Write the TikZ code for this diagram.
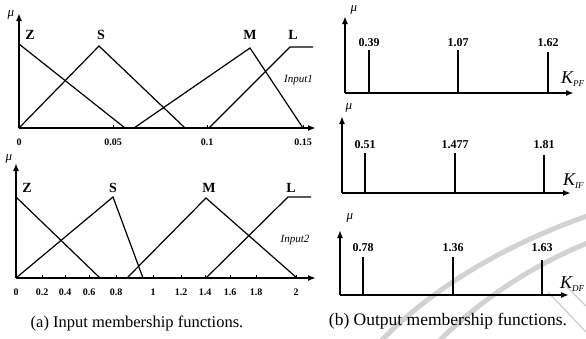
\documentclass[tikz,border=0pt]{standalone}
\usepackage{fontspec}
\setmainfont{Liberation Serif}
\usetikzlibrary{arrows.meta}
\begin{document}
\begin{tikzpicture}[x=1pt,y=-1pt,
  axis/.style={line width=1.8pt,-{Latex[length=8pt,width=6pt]}},
  mf/.style={line width=1.2pt,line join=miter},
  bar/.style={line width=1.8pt},
  tk/.style={line width=1pt},
  mfl/.style={font=\bfseries\fontsize{14}{14}\selectfont,inner sep=0pt},
  tl/.style={font=\bfseries\fontsize{10}{10}\selectfont,inner sep=0pt},
  vl/.style={font=\bfseries\fontsize{12}{12}\selectfont,inner sep=0pt},
  mu/.style={font=\itshape\fontsize{13}{13}\selectfont,inner sep=0pt},
  inl/.style={font=\itshape\fontsize{11}{11}\selectfont,inner sep=0pt},
  kl/.style={font=\itshape\fontsize{18}{18}\selectfont,inner sep=0pt,anchor=west},
  captxt/.style={font=\fontsize{16.5}{16.5}\selectfont,inner sep=0pt},
  wm/.style={line width=5pt,gray!35}]
\useasboundingbox (0,0) rectangle (586,338);
% watermark arcs
\draw[wm] (380,342) .. controls (425,295) and (495,248) .. (590,215);
\draw[wm] (438,342) .. controls (478,302) and (530,266) .. (590,242);
\draw[gray!40,line width=1.2pt] (548,292) -- (586,332);
\draw[gray!40,line width=1.2pt] (566,286) -- (586,306);

% ---------- Panel 1 ----------
\coordinate (o1) at (19,128); \coordinate (y1) at (19,13); \coordinate (x1) at (316,128);
\draw[axis] (o1) -- (y1);
\draw[axis] (o1) -- (x1);
\node[mu] (mu1) at (11,15) {μ};
\coordinate (z1a) at (19,44); \coordinate (z1b) at (125,128);
\draw[mf] (z1a) -- (z1b);
\coordinate (s1a) at (19,128); \coordinate (s1b) at (99,46); \coordinate (s1c) at (185,128);
\draw[mf] (s1a) -- (s1b) -- (s1c);
\coordinate (m1a) at (134,128); \coordinate (m1b) at (250,48); \coordinate (m1c) at (303,128);
\draw[mf] (m1a) -- (m1b) -- (m1c);
\coordinate (l1a) at (209,128); \coordinate (l1b) at (290,47); \coordinate (l1c) at (313,47);
\draw[mf] (l1a) -- (l1b) -- (l1c);
\node[mfl] (Z1) at (30,35) {Z};
\node[mfl] (S1) at (101,35) {S};
\node[mfl] (M1) at (250,35) {M};
\node[mfl] (L1) at (293,35) {L};
\node[inl,anchor=west] (in1) at (284,80) {Input1};
\foreach \x/\t [count=\i] in {19/0,113/0.05,207/0.1,303/0.15}{
  \coordinate (t1\i) at (\x,128); \coordinate (u1\i) at (\x,125);
  \draw[tk] (t1\i) -- (u1\i);
  \node[tl] (tl1\i) at (\x,142) {\t};
}

% ---------- Panel 2 ----------
\coordinate (o2) at (16,278); \coordinate (y2) at (16,163); \coordinate (x2) at (316,278);
\draw[axis] (o2) -- (y2);
\draw[axis] (o2) -- (x2);
\node[mu] (mu2) at (9,159) {μ};
\coordinate (z2a) at (16,197); \coordinate (z2b) at (100,278);
\draw[mf] (z2a) -- (z2b);
\coordinate (s2a) at (16,278); \coordinate (s2b) at (113,197); \coordinate (s2c) at (143,278);
\draw[mf] (s2a) -- (s2b) -- (s2c);
\coordinate (m2a) at (127,278); \coordinate (m2b) at (206,198); \coordinate (m2c) at (297,278);
\draw[mf] (m2a) -- (m2b) -- (m2c);
\coordinate (l2a) at (206,278); \coordinate (l2b) at (288,197); \coordinate (l2c) at (311,197);
\draw[mf] (l2a) -- (l2b) -- (l2c);
\node[mfl] (Z2) at (27,188) {Z};
\node[mfl] (S2) at (113,188) {S};
\node[mfl] (M2) at (209,188) {M};
\node[mfl] (L2) at (291,188) {L};
\node[inl] (in2) at (295,240) {Input2};
\foreach \x/\t [count=\i] in {16/0,42/0.2,65/0.4,89/0.6,116/0.8,153/1,181/1.2,205/1.4,230/1.6,256/1.8,296/2}{
  \coordinate (t2\i) at (\x,278); \coordinate (u2\i) at (\x,275);
  \draw[tk] (t2\i) -- (u2\i);
  \node[tl] (tl2\i) at (\x,292) {\t};
}
\node[captxt] (capa) at (137,323) {(a) Input membership functions.};

% ---------- Panel 3 ----------
\coordinate (o3) at (345,93); \coordinate (y3) at (345,16); \coordinate (x3) at (574,93);
\draw[axis] (o3) -- (y3);
\draw[axis] (o3) -- (x3);
\node[mu] (mu3) at (354,10) {μ};
\foreach \x/\t/\h [count=\i] in {369/0.39/50,458/1.07/50,548/1.62/52}{
  \coordinate (b3\i) at (\x,93); \coordinate (c3\i) at (\x,\h);
  \draw[bar] (b3\i) -- (c3\i);
  \node[vl] (v3\i) at (\x,43) {\t};
}
\node[kl] (k3) at (561,79) {K\textsubscript{\fontsize{9}{9}\selectfont PF}};

% ---------- Panel 4 ----------
\coordinate (o4) at (342,193); \coordinate (y4) at (342,116); \coordinate (x4) at (571,193);
\draw[axis] (o4) -- (y4);
\draw[axis] (o4) -- (x4);
\node[mu] (mu4) at (349,108) {μ};
\foreach \x/\t/\h [count=\i] in {365/0.51/153,455/1.477/153,544/1.81/155}{
  \coordinate (b4\i) at (\x,193); \coordinate (c4\i) at (\x,\h);
  \draw[bar] (b4\i) -- (c4\i);
  \node[vl] (v4\i) at (\x,145) {\t};
}
\node[kl] (k4) at (563,181) {K\textsubscript{\fontsize{9}{9}\selectfont IF}};

% ---------- Panel 5 ----------
\coordinate (o5) at (340,295); \coordinate (y5) at (340,230); \coordinate (x5) at (569,295);
\draw[axis] (o5) -- (y5);
\draw[axis] (o5) -- (x5);
\node[mu] (mu5) at (350,218) {μ};
\foreach \x/\t/\h [count=\i] in {363/0.78/257,453/1.36/257,542/1.63/260}{
  \coordinate (b5\i) at (\x,295); \coordinate (c5\i) at (\x,\h);
  \draw[bar] (b5\i) -- (c5\i);
  \node[vl] (v5\i) at (\x,248) {\t};
}
\node[kl] (k5) at (560,284) {K\textsubscript{\fontsize{9}{9}\selectfont DF}};
\node[captxt,font=\fontsize{17.5}{17.5}\selectfont] (capb) at (448,321) {(b) Output membership functions.};
\end{tikzpicture}
\end{document}
